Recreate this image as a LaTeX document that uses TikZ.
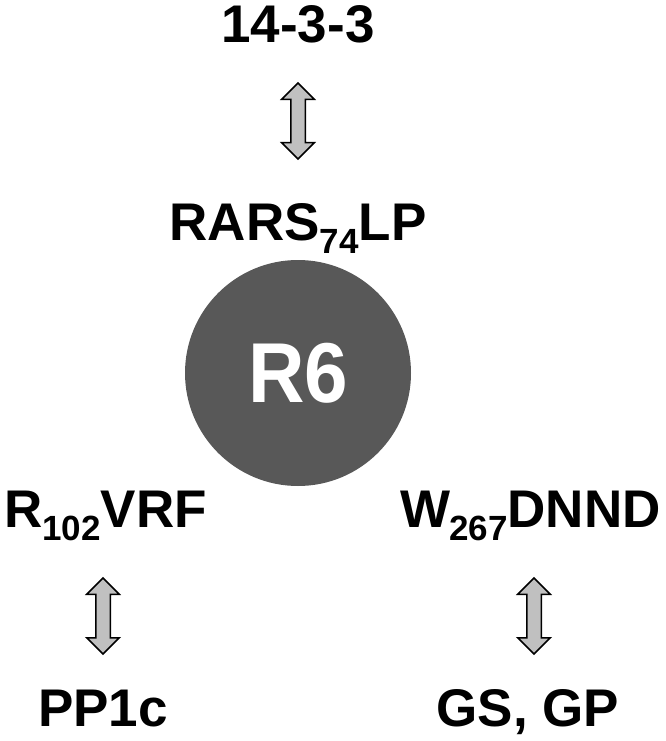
\documentclass[tikz,border=0pt]{standalone}
\usepackage{fontspec}
\setmainfont{Liberation Sans}
\newfontfamily\discfont{Liberation Sans}[FakeStretch=0.92]
\usetikzlibrary{shapes.arrows}
\definecolor{discgray}{RGB}{88,88,88}
\definecolor{arrowgray}{RGB}{192,192,192}
\newcommand{\sbs}[1]{\raisebox{-13pt}{\fontsize{35}{38}\selectfont\bfseries #1}}
\tikzset{
  lab/.style={inner sep=0pt, anchor=base, font=\fontsize{53}{60}\selectfont\bfseries},
  dbl/.style={double arrow, draw=black, fill=arrowgray, line width=1.5pt,
    rotate=90, inner xsep=0pt, inner ysep=0pt, minimum height=76pt,
    double arrow head extend=9pt, double arrow head indent=0pt},
  disc/.style={circle, fill=discgray, minimum size=226pt, inner sep=0pt,
    text=white, font=\discfont\fontsize{85}{90}\selectfont\bfseries}
}
\newcommand{\shaft}{\rule{0pt}{13pt}}
\begin{document}
\begin{tikzpicture}[x=1pt,y=-1pt]
\useasboundingbox (0,0) rectangle (666,741);
\node[lab] (t1) at (298,43) {14-3-3};
\node[lab] (rars) at (298,240) {RARS\sbs{74}LP};
\node[disc] (r6) at (298,373) {R6};
\node[lab, anchor=base west] (rvrf) at (4,527) {R\sbs{102}VRF};
\node[lab, anchor=base east] (wdnnd) at (661,527) {W\kern-1pt\sbs{267}DNND};
\node[lab] (pp1c) at (103,726) {PP1c};
\node[lab] (gsgp) at (528,726) {GS, GP};
\node[dbl] (a1) at (298,121) {\shaft};
\node[dbl] (a2) at (103,616) {\shaft};
\node[dbl] (a3) at (534,616) {\shaft};
\end{tikzpicture}
\end{document}
